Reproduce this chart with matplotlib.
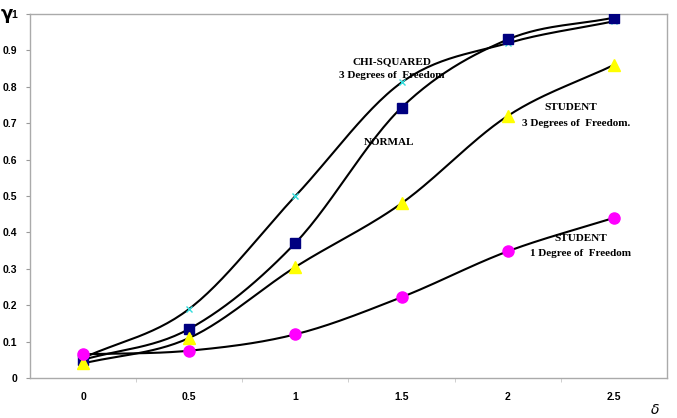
import numpy as np
import matplotlib.pyplot as plt

delta = [0, 0.5, 1, 1.5, 2, 2.5]
chi_sq = [0.055, 0.19, 0.50, 0.812, 0.92, 0.98]
normal = [0.05, 0.135, 0.371, 0.743, 0.93, 0.99]
student3 = [0.04, 0.11, 0.305, 0.48, 0.72, 0.86]
student1 = [0.065, 0.075, 0.12, 0.222, 0.348, 0.44]


def smooth(x, y, n=30):
    # catmull-rom curve through the points, like Excel's smoothed line
    x = np.asarray(x, float)
    y = np.asarray(y, float)
    px = np.concatenate([[2 * x[0] - x[1]], x, [2 * x[-1] - x[-2]]])
    py = np.concatenate([[2 * y[0] - y[1]], y, [2 * y[-1] - y[-2]]])
    xs, ys = [], []
    t = np.linspace(0, 1, n)
    for i in range(1, len(px) - 2):
        for p, out in ((px, xs), (py, ys)):
            p0, p1, p2, p3 = p[i - 1], p[i], p[i + 1], p[i + 2]
            out.extend(0.5 * (2 * p1 + (-p0 + p2) * t
                              + (2 * p0 - 5 * p1 + 4 * p2 - p3) * t ** 2
                              + (-p0 + 3 * p1 - 3 * p2 + p3) * t ** 3))
    return xs, ys


fig = plt.figure(figsize=(6.77, 4.18), dpi=100)
ax = fig.add_axes([30 / 677, 40 / 418, 637 / 677, 364 / 418])

series = [
    (chi_sq, dict(marker='x', color='#33dddd', ms=4, mew=1)),
    (normal, dict(marker='s', color='#000080', ms=7)),
    (student3, dict(marker='^', color='#ffff00', ms=8)),
    (student1, dict(marker='o', color='#ff00ff', ms=8)),
]
for vals, st in series:
    sx, sy = smooth(delta, vals)
    ax.plot(sx, sy, color='black', lw=1.5, zorder=2)
    ax.plot(delta, vals, ls='none', zorder=3, markeredgecolor=st['color'], **st)

ax.set_xlim(-0.25, 2.75)
ax.set_ylim(0, 1)
ax.set_yticks(np.arange(0, 1.01, 0.1))
ax.set_yticklabels(['0'] + ['%.1f' % v for v in np.arange(0.1, 0.95, 0.1)] + ['1'])
ax.set_xticks(delta)
ax.set_xticklabels(['0', '0.5', '1', '1.5', '2', '2.5'])
ax.set_xticks(np.arange(0.25, 2.5, 0.5), minor=True)
ax.tick_params(axis='x', which='major', length=0, pad=10)
ax.tick_params(axis='x', which='minor', length=3, color='#c8c8c8')
ax.tick_params(axis='y', length=3, color='#999999', pad=6)
for lab in ax.get_xticklabels() + ax.get_yticklabels():
    lab.set_fontfamily('Liberation Sans')
    lab.set_fontweight('bold')
    lab.set_fontsize(7.5)
for s in ax.spines.values():
    s.set_color('#aaaaaa')
    s.set_linewidth(1)

serif = dict(family='Liberation Serif', fontweight='bold', fontsize=8,
             ha='center', va='center')
ax.text(1.453, 0.868, 'CHI-SQUARED', **serif)
ax.text(1.453, 0.83, '3 Degrees of  Freedom', **serif)
ax.text(1.44, 0.646, 'NORMAL', **serif)
ax.text(2.297, 0.742, 'STUDENT', **serif)
ax.text(2.32, 0.70, '3 Degrees of  Freedom.', **serif)
ax.text(2.344, 0.382, 'STUDENT', **serif)
ax.text(2.344, 0.343, '1 Degree of  Freedom', **serif)

fig.text(7 / 677, 1 - 14 / 418, 'γ', fontsize=13, fontweight='bold',
         ha='center', va='center')
fig.text(655 / 677, 1 - 410 / 418, 'δ', fontsize=10, style='italic',
         ha='center', va='center')

fig.savefig('out.png', dpi=100)
